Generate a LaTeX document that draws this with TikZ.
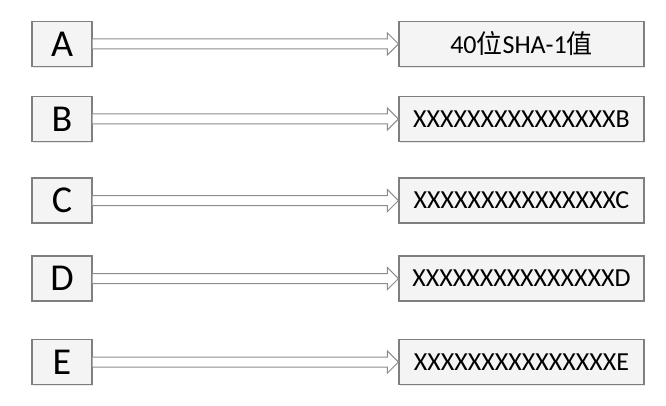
\documentclass[tikz,border=0pt]{standalone}
\usepackage{fontspec}
\setmainfont{Carlito}
\newfontfamily\cjk{Noto Sans CJK SC}
\usetikzlibrary{calc,shadows}
\definecolor{boxline}{HTML}{7F7F7F}
\definecolor{boxfill}{HTML}{F4F4F4}
\definecolor{arrline}{HTML}{8C8C8C}
\tikzset{
  keybox/.style={draw=boxline, line width=1.1pt, fill=boxfill,
    minimum width=60pt, minimum height=45pt, inner sep=0pt,
    font=\fontsize{38}{38}\selectfont,
    drop shadow={opacity=0.18, shadow xshift=1.2pt, shadow yshift=-1.2pt}},
  valbox/.style={draw=boxline, line width=1.1pt, fill=boxfill,
    minimum width=245pt, minimum height=45pt, inner sep=0pt,
    font=\fontsize{26}{26}\selectfont,
    drop shadow={opacity=0.18, shadow xshift=1.2pt, shadow yshift=-1.2pt}},
  hollow/.style={draw=arrline, line width=1pt, fill=white, line join=miter}
}
\newcommand{\hollowarrow}[2]{%
  \draw[hollow] ($(#1.east)+(0,5)$) -- ($(#2.west)+(-11,5)$) -- ($(#2.west)+(-11,11)$)
    -- (#2.west) -- ($(#2.west)+(-11,-11)$) -- ($(#2.west)+(-11,-5)$)
    -- ($(#1.east)+(0,-5)$);}
\begin{document}
\begin{tikzpicture}[x=1pt,y=1pt]
\useasboundingbox (0,0) rectangle (666,405);
\fill[white] (0,0) rectangle (666,405);
\node[keybox] (a) at (62,361) {A};
\node[keybox] (b) at (62,286) {B};
\node[keybox] (c) at (62,204.5) {C};
\node[keybox] (d) at (62,126.5) {D};
\node[keybox] (e) at (62,43) {E};
\node[valbox] (ra) at (521.5,361) {40{\cjk 位}SHA-1{\cjk 值}};
\node[valbox] (rb) at (521.5,286) {XXXXXXXXXXXXXXXB};
\node[valbox] (rc) at (521.5,204.5) {XXXXXXXXXXXXXXXC};
\node[valbox] (rd) at (521.5,126.5) {XXXXXXXXXXXXXXXD};
\node[valbox] (re) at (521.5,43) {XXXXXXXXXXXXXXXE};
\hollowarrow{a}{ra}
\hollowarrow{b}{rb}
\hollowarrow{c}{rc}
\hollowarrow{d}{rd}
\hollowarrow{e}{re}
\end{tikzpicture}
\end{document}
